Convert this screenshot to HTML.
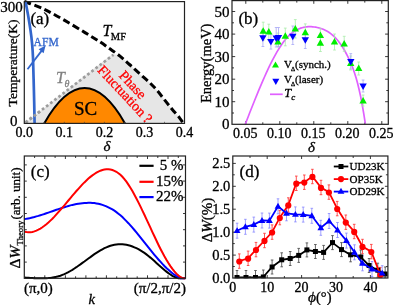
<!DOCTYPE html>
<html><head><meta charset="utf-8"><style>
html,body{margin:0;padding:0;background:#fff;overflow:hidden;width:393px;height:305px}
svg{display:block;will-change:transform}
text{font-family:"Liberation Serif",serif}
</style></head><body>
<svg width="393" height="305" viewBox="0 0 393 305" font-family="Liberation Serif, serif">
<rect width="393" height="305" fill="#fff"/>
<path d="M24.3,123.4 L112.5,54 C113.7,54.3 116.9,54.1 119.7,55.9C122.5,57.6 126.2,61.6 129.5,64.5C132.8,67.4 136,70.5 139.3,73.4C142.6,76.4 146.2,79.4 149.2,82.2C152.1,85 154.4,87.3 157,90.3C159.6,93.3 162.3,97 164.8,100.2C167.3,103.4 169.7,106.3 172.1,109.2C174.5,112.1 177.7,115.5 179.5,117.8C181.3,120.1 182.6,122.1 183.2,123 L183.2,123.4 Z" fill="#e6e6e6"/>
<path d="M44.2,123.4 Q84.6,52.8 125,123.4 Z" fill="#ff8800"/>
<path d="M44.2,123.4 Q84.6,52.8 125,123.4" fill="none" stroke="#000" stroke-width="2"/>
<path d="M25.5,122.5 L113.5,54.7" stroke="#9c9c9c" stroke-width="2.7" stroke-dasharray="2.7 2.5" fill="none"/>
<path d="M24.3,1.4C27.6,2.7 37.7,6.2 44.4,9.4C51.1,12.6 57.9,16.5 64.7,20.4C71.5,24.3 79.1,29 85,32.6C90.9,36.2 95.9,39.2 100,41.9C104.1,44.6 106.5,46.5 109.8,48.8C113.1,51.1 116.4,53.3 119.7,55.9C123,58.5 126.2,61.6 129.5,64.5C132.8,67.4 136,70.5 139.3,73.4C142.6,76.4 146.2,79.4 149.2,82.2C152.1,85 154.4,87.3 157,90.3C159.6,93.3 162.3,97 164.8,100.2C167.3,103.4 169.7,106.3 172.1,109.2C174.5,112.1 177.7,115.5 179.5,117.8C181.3,120.1 182.6,122.1 183.2,123" fill="none" stroke="#000" stroke-width="3" stroke-dasharray="7.2 3.6"/>
<path d="M25.5,1.3C25.9,3.5 27.2,10.1 28,14.8C28.8,19.5 29.7,24.9 30.4,29.6C31.1,34.3 31.6,38.1 32,42.8C32.4,47.5 32.7,49.7 33,57.6C33.3,65.5 33.6,79 33.9,90C34.2,101 34.5,117.8 34.6,123.4" fill="none" stroke="#3366cc" stroke-width="2.7"/>
<path d="M25.5,122.5 L40,111.3" stroke="#9c9c9c" stroke-width="2.7" stroke-dasharray="2.7 2.5" fill="none"/>
<path d="M27.5,69.2 L42.5,49.6" stroke="#3366cc" stroke-width="1.8" fill="none"/>
<path d="M45.6,45.6 L38.6,49.2 L43.6,53.2 Z" fill="#3366cc"/>
<rect x="24.3" y="1.6" width="160.2" height="121.8" fill="none" stroke="#222" stroke-width="1.2"/>
<path d="M44.3,123.4 V121.8" stroke="#444" stroke-width="0.7"/>
<path d="M64.3,123.4 V121.8" stroke="#444" stroke-width="0.7"/>
<path d="M84.4,123.4 V121.8" stroke="#444" stroke-width="0.7"/>
<path d="M104.4,123.4 V121.8" stroke="#444" stroke-width="0.7"/>
<path d="M124.4,123.4 V121.8" stroke="#444" stroke-width="0.7"/>
<path d="M144.4,123.4 V121.8" stroke="#444" stroke-width="0.7"/>
<path d="M164.5,123.4 V121.8" stroke="#444" stroke-width="0.7"/>
<text x="22.8" y="12.3" font-size="15" text-anchor="end" stroke="#000" stroke-width="0.3">300</text>
<text x="17.6" y="125.6" font-size="15" text-anchor="end" stroke="#000" stroke-width="0.3">0</text>
<text x="24.3" y="136.8" font-size="14" text-anchor="middle" stroke="#000" stroke-width="0.3">0.0</text>
<text x="64.3" y="136.8" font-size="14" text-anchor="middle" stroke="#000" stroke-width="0.3">0.1</text>
<text x="104.4" y="136.8" font-size="14" text-anchor="middle" stroke="#000" stroke-width="0.3">0.2</text>
<text x="144.4" y="136.8" font-size="14" text-anchor="middle" stroke="#000" stroke-width="0.3">0.3</text>
<text x="184.5" y="136.8" font-size="14" text-anchor="middle" stroke="#000" stroke-width="0.3">0.4</text>
<text x="107" y="150.5" font-size="15" font-style="italic" text-anchor="middle" stroke="#000" stroke-width="0.3">&#948;</text>
<text transform="translate(16.5,63) rotate(-90)" font-size="13.5" text-anchor="middle" stroke="#000" stroke-width="0.3">Temperature(K)</text>
<text x="30.4" y="23.8" font-size="17" stroke="#000" stroke-width="0.3">(a)</text>
<text x="33.6" y="46" font-size="11.6" fill="#3366cc" stroke="#3366cc" stroke-width="0.3">AFM</text>
<text x="102.5" y="35.8" font-size="16" font-style="italic" stroke="#000" stroke-width="0.3">T</text>
<text x="110.8" y="39.8" font-size="10.5" stroke="#000" stroke-width="0.3">MF</text>
<text x="56" y="82.8" font-size="16" font-style="italic" fill="#808080" stroke="#808080" stroke-width="0.3">T</text>
<text x="64.5" y="86.5" font-size="10" font-style="italic" fill="#808080" stroke="#808080" stroke-width="0.3">&#952;</text>
<text x="85.5" y="114.5" font-size="19" text-anchor="middle" stroke="#000" stroke-width="0.3">SC</text>
<text transform="translate(129.3,87.9) rotate(47)" font-size="14" fill="#ff0000" text-anchor="middle" stroke="#ff0000" stroke-width="0.3">Phase</text>
<text transform="translate(121.6,97.3) rotate(47)" font-size="14" fill="#ff0000" text-anchor="middle" stroke="#ff0000" stroke-width="0.3">Fluctuation&#8201;?</text>
<path d="M245.8,124.3 V121.1 M245.8,0.6 V3.8" stroke="#222" stroke-width="0.9"/>
<path d="M262.8,124.3 V122.3 M262.8,0.6 V2.6" stroke="#222" stroke-width="0.9"/>
<path d="M279.8,124.3 V121.1 M279.8,0.6 V3.8" stroke="#222" stroke-width="0.9"/>
<path d="M296.8,124.3 V122.3 M296.8,0.6 V2.6" stroke="#222" stroke-width="0.9"/>
<path d="M313.8,124.3 V121.1 M313.8,0.6 V3.8" stroke="#222" stroke-width="0.9"/>
<path d="M330.8,124.3 V122.3 M330.8,0.6 V2.6" stroke="#222" stroke-width="0.9"/>
<path d="M347.8,124.3 V121.1 M347.8,0.6 V3.8" stroke="#222" stroke-width="0.9"/>
<path d="M364.8,124.3 V122.3 M364.8,0.6 V2.6" stroke="#222" stroke-width="0.9"/>
<path d="M381.8,124.3 V121.1 M381.8,0.6 V3.8" stroke="#222" stroke-width="0.9"/>
<path d="M232,113 H234 M388.3,113 H386.3" stroke="#222" stroke-width="0.9"/>
<path d="M232,101.7 H235.2 M388.3,101.7 H385.1" stroke="#222" stroke-width="0.9"/>
<path d="M232,90.5 H234 M388.3,90.5 H386.3" stroke="#222" stroke-width="0.9"/>
<path d="M232,79.2 H235.2 M388.3,79.2 H385.1" stroke="#222" stroke-width="0.9"/>
<path d="M232,67.9 H234 M388.3,67.9 H386.3" stroke="#222" stroke-width="0.9"/>
<path d="M232,56.6 H235.2 M388.3,56.6 H385.1" stroke="#222" stroke-width="0.9"/>
<path d="M232,45.3 H234 M388.3,45.3 H386.3" stroke="#222" stroke-width="0.9"/>
<path d="M232,34.1 H235.2 M388.3,34.1 H385.1" stroke="#222" stroke-width="0.9"/>
<path d="M232,22.8 H234 M388.3,22.8 H386.3" stroke="#222" stroke-width="0.9"/>
<path d="M232,11.5 H235.2 M388.3,11.5 H385.1" stroke="#222" stroke-width="0.9"/>
<path d="M245.2,124.3 L246.7,120.5 L248.2,116.7 L249.7,112.8 L251.2,109 L252.7,105.2 L254.2,101.5 L255.7,97.7 L257.2,94.1 L258.7,90.4 L260.2,86.8 L261.7,83.3 L263.2,79.9 L264.7,76.5 L266.2,73.1 L267.7,69.9 L269.2,66.7 L270.7,63.7 L272.2,60.7 L273.7,57.8 L275.2,55.1 L276.7,52.4 L278.2,49.9 L279.7,47.5 L281.2,45.2 L282.7,43.1 L284.2,41.1 L285.7,39.2 L287.2,37.5 L288.7,35.9 L290.2,34.5 L291.7,33.2 L293.2,32.1 L294.7,31 L296.2,30.1 L297.7,29.4 L299.2,28.7 L300.7,28.1 L302.2,27.7 L303.7,27.3 L305.2,27 L306.7,26.8 L308.2,26.7 L309.7,26.7 L311.2,26.7 L312.7,26.8 L314.2,27 L315.7,27.2 L317.2,27.5 L318.7,27.8 L320.2,28.2 L321.7,28.7 L323.2,29.3 L324.7,29.9 L326.2,30.7 L327.7,31.5 L329.2,32.5 L330.7,33.6 L332.2,34.8 L333.7,36.2 L335.2,37.6 L336.7,39.3 L338.2,41 L339.7,43 L341.2,45.1 L342.7,47.4 L344.2,49.8 L345.7,52.5 L347.2,55.3 L348.7,58.3 L350.2,61.6 L351.7,65.1 L353.2,69 L354.7,73.4 L356.2,78.3 L357.7,83.8 L359.2,90 L360.7,96.9 L362.2,104.6 L363.7,113.3 L365.2,122.9 L365.3,123.6" fill="none" stroke="#e060ff" stroke-width="1.7"/>
<path d="M263.2,22.2 V40.2 M261.8,22.2 H264.6 M261.8,40.2 H264.6" stroke="#a8eca8" stroke-width="0.8" fill="none"/>
<path d="M268.8,24.2 V40 M267.4,24.2 H270.2 M267.4,40 H270.2" stroke="#a8eca8" stroke-width="0.8" fill="none"/>
<path d="M278,33 V46.5 M276.6,33 H279.4 M276.6,46.5 H279.4" stroke="#a8eca8" stroke-width="0.8" fill="none"/>
<path d="M285.3,28.1 V45.8 M283.9,28.1 H286.7 M283.9,45.8 H286.7" stroke="#a8eca8" stroke-width="0.8" fill="none"/>
<path d="M295.3,19.6 V38 M293.9,19.6 H296.7 M293.9,38 H296.7" stroke="#a8eca8" stroke-width="0.8" fill="none"/>
<path d="M305.3,23.9 V41.5 M303.9,23.9 H306.7 M303.9,41.5 H306.7" stroke="#a8eca8" stroke-width="0.8" fill="none"/>
<path d="M320.4,28.8 V42 M319,28.8 H321.8 M319,42 H321.8" stroke="#a8eca8" stroke-width="0.8" fill="none"/>
<path d="M320.4,35 V51.5 M319,35 H321.8 M319,51.5 H321.8" stroke="#a8eca8" stroke-width="0.8" fill="none"/>
<path d="M334.5,34 V50 M333.1,34 H335.9 M333.1,50 H335.9" stroke="#a8eca8" stroke-width="0.8" fill="none"/>
<path d="M344.2,36.3 V51.3 M342.8,36.3 H345.6 M342.8,51.3 H345.6" stroke="#a8eca8" stroke-width="0.8" fill="none"/>
<path d="M350.7,56 V70 M349.3,56 H352.1 M349.3,70 H352.1" stroke="#a8eca8" stroke-width="0.8" fill="none"/>
<path d="M358.7,62 V75 M357.3,62 H360.1 M357.3,75 H360.1" stroke="#a8eca8" stroke-width="0.8" fill="none"/>
<path d="M363.1,95 V106 M361.7,95 H364.5 M361.7,106 H364.5" stroke="#a8eca8" stroke-width="0.8" fill="none"/>
<path d="M262.9,29.6 V46.5 M261.5,29.6 H264.3 M261.5,46.5 H264.3" stroke="#a8a8f5" stroke-width="0.8" fill="none"/>
<path d="M270.9,34 V49.1 M269.5,34 H272.3 M269.5,49.1 H272.3" stroke="#a8a8f5" stroke-width="0.8" fill="none"/>
<path d="M276.2,27.5 V47 M274.8,27.5 H277.6 M274.8,47 H277.6" stroke="#a8a8f5" stroke-width="0.8" fill="none"/>
<path d="M278.5,27.5 V47 M277.1,27.5 H279.9 M277.1,47 H279.9" stroke="#a8a8f5" stroke-width="0.8" fill="none"/>
<path d="M292.8,26 V44.5 M291.4,26 H294.2 M291.4,44.5 H294.2" stroke="#a8a8f5" stroke-width="0.8" fill="none"/>
<path d="M305.3,31 V48.5 M303.9,31 H306.7 M303.9,48.5 H306.7" stroke="#a8a8f5" stroke-width="0.8" fill="none"/>
<path d="M350.8,53.6 V69 M349.4,53.6 H352.2 M349.4,69 H352.2" stroke="#a8a8f5" stroke-width="0.8" fill="none"/>
<path d="M363.1,80 V92 M361.7,80 H364.5 M361.7,92 H364.5" stroke="#a8a8f5" stroke-width="0.8" fill="none"/>
<path d="M263.2,27.3 L259.5,33.8 L266.9,33.8 Z" fill="#00ee00"/>
<path d="M268.8,28.1 L265.1,34.6 L272.5,34.6 Z" fill="#00ee00"/>
<path d="M278,37.9 L274.3,44.4 L281.7,44.4 Z" fill="#00ee00"/>
<path d="M285.3,32.2 L281.6,38.7 L289,38.7 Z" fill="#00ee00"/>
<path d="M295.3,24.9 L291.6,31.4 L299,31.4 Z" fill="#00ee00"/>
<path d="M305.3,28.8 L301.6,35.3 L309,35.3 Z" fill="#00ee00"/>
<path d="M320.4,31.4 L316.7,37.9 L324.1,37.9 Z" fill="#00ee00"/>
<path d="M320.4,39.3 L316.7,45.8 L324.1,45.8 Z" fill="#00ee00"/>
<path d="M334.5,38.1 L330.8,44.6 L338.2,44.6 Z" fill="#00ee00"/>
<path d="M344.2,39.9 L340.5,46.4 L347.9,46.4 Z" fill="#00ee00"/>
<path d="M350.7,59.5 L347,66 L354.4,66 Z" fill="#00ee00"/>
<path d="M358.7,64.6 L355,71.1 L362.4,71.1 Z" fill="#00ee00"/>
<path d="M363.1,97 L359.4,103.5 L366.8,103.5 Z" fill="#00ee00"/>
<path d="M262.9,41.7 L259.2,35.2 L266.6,35.2 Z" fill="#0000ff"/>
<path d="M270.9,45.4 L267.2,38.9 L274.6,38.9 Z" fill="#0000ff"/>
<path d="M276.2,42.1 L272.5,35.6 L279.9,35.6 Z" fill="#0000ff"/>
<path d="M278.5,41.4 L274.8,34.9 L282.2,34.9 Z" fill="#0000ff"/>
<path d="M292.8,40.3 L289.1,33.8 L296.5,33.8 Z" fill="#0000ff"/>
<path d="M305.3,43.7 L301.6,37.2 L309,37.2 Z" fill="#0000ff"/>
<path d="M350.8,65.4 L347.1,58.9 L354.5,58.9 Z" fill="#0000ff"/>
<path d="M363.1,89.9 L359.4,83.4 L366.8,83.4 Z" fill="#0000ff"/>
<rect x="232" y="0.6" width="156.3" height="123.7" fill="none" stroke="#222" stroke-width="1.2"/>
<text x="229.5" y="129.3" font-size="15" text-anchor="end" stroke="#000" stroke-width="0.3">0</text>
<text x="229.5" y="106.7" font-size="15" text-anchor="end" stroke="#000" stroke-width="0.3">10</text>
<text x="229.5" y="84.2" font-size="15" text-anchor="end" stroke="#000" stroke-width="0.3">20</text>
<text x="229.5" y="61.6" font-size="15" text-anchor="end" stroke="#000" stroke-width="0.3">30</text>
<text x="229.5" y="39.1" font-size="15" text-anchor="end" stroke="#000" stroke-width="0.3">40</text>
<text x="229.5" y="16.5" font-size="15" text-anchor="end" stroke="#000" stroke-width="0.3">50</text>
<text x="245.3" y="138.4" font-size="14" text-anchor="middle" stroke="#000" stroke-width="0.3">0.05</text>
<text x="279.3" y="138.4" font-size="14" text-anchor="middle" stroke="#000" stroke-width="0.3">0.10</text>
<text x="313.3" y="138.4" font-size="14" text-anchor="middle" stroke="#000" stroke-width="0.3">0.15</text>
<text x="347.3" y="138.4" font-size="14" text-anchor="middle" stroke="#000" stroke-width="0.3">0.20</text>
<text x="381.3" y="138.4" font-size="14" text-anchor="middle" stroke="#000" stroke-width="0.3">0.25</text>
<text x="311.5" y="151.5" font-size="15" font-style="italic" text-anchor="middle" stroke="#000" stroke-width="0.3">&#948;</text>
<text transform="translate(211,63.3) rotate(-90)" font-size="14.5" text-anchor="middle" stroke="#000" stroke-width="0.3">Energy(meV)</text>
<text x="238.4" y="23.9" font-size="17" stroke="#000" stroke-width="0.3">(b)</text>
<path d="M275.5,61.5 L272,67.6 L279,67.6 Z" fill="#00ee00"/>
<path d="M275.8,84.9 L272.3,78.8 L279.3,78.8 Z" fill="#0000ff"/>
<path d="M270,94.3 H282.7" stroke="#e060ff" stroke-width="1.7"/>
<text x="284" y="68.2" font-size="11" stroke="#000" stroke-width="0.3">V</text><text x="291" y="71" font-size="6.5" stroke="#000" stroke-width="0.3">&#916;</text><text x="295" y="68.2" font-size="11" stroke="#000" stroke-width="0.3">(synch.)</text>
<text x="284" y="83" font-size="11" stroke="#000" stroke-width="0.3">V</text><text x="291" y="85.8" font-size="6.5" stroke="#000" stroke-width="0.3">&#916;</text><text x="295" y="83" font-size="11" stroke="#000" stroke-width="0.3">(laser)</text>
<text x="284.2" y="96.8" font-size="12.5" font-style="italic" stroke="#000" stroke-width="0.3">T</text><text x="291.2" y="99.8" font-size="9" font-style="italic" stroke="#000" stroke-width="0.3">c</text>
<path d="M34.6,278.3 V276.3 M34.6,156 V158" stroke="#222" stroke-width="0.9"/>
<path d="M44.8,278.3 V275.3 M44.8,156 V159" stroke="#222" stroke-width="0.9"/>
<path d="M55.1,278.3 V276.3 M55.1,156 V158" stroke="#222" stroke-width="0.9"/>
<path d="M65.4,278.3 V275.3 M65.4,156 V159" stroke="#222" stroke-width="0.9"/>
<path d="M75.6,278.3 V276.3 M75.6,156 V158" stroke="#222" stroke-width="0.9"/>
<path d="M85.9,278.3 V275.3 M85.9,156 V159" stroke="#222" stroke-width="0.9"/>
<path d="M96.2,278.3 V276.3 M96.2,156 V158" stroke="#222" stroke-width="0.9"/>
<path d="M106.4,278.3 V275.3 M106.4,156 V159" stroke="#222" stroke-width="0.9"/>
<path d="M116.7,278.3 V276.3 M116.7,156 V158" stroke="#222" stroke-width="0.9"/>
<path d="M127,278.3 V275.3 M127,156 V159" stroke="#222" stroke-width="0.9"/>
<path d="M137.2,278.3 V276.3 M137.2,156 V158" stroke="#222" stroke-width="0.9"/>
<path d="M147.5,278.3 V275.3 M147.5,156 V159" stroke="#222" stroke-width="0.9"/>
<path d="M157.8,278.3 V276.3 M157.8,156 V158" stroke="#222" stroke-width="0.9"/>
<path d="M168,278.3 V275.3 M168,156 V159" stroke="#222" stroke-width="0.9"/>
<path d="M178.3,278.3 V276.3 M178.3,156 V158" stroke="#222" stroke-width="0.9"/>
<path d="M24.3,262.1 H26.8 M185.5,262.1 H183" stroke="#222" stroke-width="0.9"/>
<path d="M24.3,245.9 H26.8 M185.5,245.9 H183" stroke="#222" stroke-width="0.9"/>
<path d="M24.3,229.7 H26.8 M185.5,229.7 H183" stroke="#222" stroke-width="0.9"/>
<path d="M24.3,213.5 H26.8 M185.5,213.5 H183" stroke="#222" stroke-width="0.9"/>
<path d="M24.3,197.3 H26.8 M185.5,197.3 H183" stroke="#222" stroke-width="0.9"/>
<path d="M24.3,181.1 H26.8 M185.5,181.1 H183" stroke="#222" stroke-width="0.9"/>
<path d="M24.3,164.9 H26.8 M185.5,164.9 H183" stroke="#222" stroke-width="0.9"/>
<path d="M24.4,277.6 L26.4,277.7 L28.4,277.8 L30.4,278 L32.4,278.1 L34.4,278.2 L36.4,278.2 L38.4,278.2 L40.4,278.2 L42.4,278.2 L44.4,278.2 L46.4,278.2 L48.4,278.1 L50.4,277.9 L52.4,277.6 L54.4,277.2 L56.4,276.8 L58.4,276.3 L60.4,275.7 L62.4,274.9 L64.4,274.1 L66.4,273.2 L68.4,272.2 L70.4,271 L72.4,269.8 L74.4,268.5 L76.4,267.2 L78.4,265.8 L80.4,264.4 L82.4,262.9 L84.4,261.5 L86.4,260 L88.4,258.5 L90.4,257.1 L92.4,255.6 L94.4,254.2 L96.4,252.9 L98.4,251.6 L100.4,250.4 L102.4,249.3 L104.4,248.2 L106.4,247.3 L108.4,246.5 L110.4,245.8 L112.4,245.2 L114.4,244.8 L116.4,244.5 L118.4,244.3 L120.4,244.2 L122.4,244.3 L124.4,244.5 L126.4,244.8 L128.4,245.3 L130.4,245.8 L132.4,246.5 L134.4,247.3 L136.4,248.2 L138.4,249.2 L140.4,250.4 L142.4,251.6 L144.4,252.9 L146.4,254.4 L148.4,256 L150.4,257.6 L152.4,259.3 L154.4,261.1 L156.4,262.9 L158.4,264.8 L160.4,266.6 L162.4,268.3 L164.4,270 L166.4,271.6 L168.4,273.1 L170.4,274.5 L172.4,275.8 L174.4,276.8 L176.4,277.6 L178.4,278.2 L180.4,278.2 L182.4,278.2 L184.4,278.2 L185.3,278.2" fill="none" stroke="#000" stroke-width="2"/>
<path d="M24.4,219.1 L26.4,218.8 L28.4,218.4 L30.4,218 L32.4,217.5 L34.4,217 L36.4,216.4 L38.4,215.9 L40.4,215.2 L42.4,214.6 L44.4,214 L46.4,213.3 L48.4,212.6 L50.4,211.9 L52.4,211.2 L54.4,210.5 L56.4,209.8 L58.4,209.1 L60.4,208.5 L62.4,207.8 L64.4,207.2 L66.4,206.6 L68.4,206 L70.4,205.4 L72.4,204.9 L74.4,204.5 L76.4,204.1 L78.4,203.7 L80.4,203.4 L82.4,203.2 L84.4,203 L86.4,202.9 L88.4,202.8 L90.4,202.8 L92.4,203 L94.4,203.1 L96.4,203.4 L98.4,203.8 L100.4,204.3 L102.4,204.9 L104.4,205.6 L106.4,206.3 L108.4,207.3 L110.4,208.3 L112.4,209.4 L114.4,210.7 L116.4,212.1 L118.4,213.7 L120.4,215.3 L122.4,217.1 L124.4,219.1 L126.4,221.1 L128.4,223.2 L130.4,225.4 L132.4,227.7 L134.4,230 L136.4,232.4 L138.4,234.9 L140.4,237.4 L142.4,239.9 L144.4,242.4 L146.4,244.9 L148.4,247.4 L150.4,249.9 L152.4,252.3 L154.4,254.8 L156.4,257.2 L158.4,259.5 L160.4,261.7 L162.4,263.9 L164.4,266 L166.4,268 L168.4,269.8 L170.4,271.6 L172.4,273.2 L174.4,274.7 L176.4,276 L178.4,277.2 L180.4,278.2 L182.4,278.2 L184.4,278.2 L185.3,278.2" fill="none" stroke="#0000ff" stroke-width="2"/>
<path d="M24.4,231.7 L26.4,232.1 L28.4,232.3 L30.4,232.2 L32.4,231.9 L34.4,231.4 L36.4,230.6 L38.4,229.7 L40.4,228.6 L42.4,227.3 L44.4,225.8 L46.4,224.2 L48.4,222.5 L50.4,220.6 L52.4,218.7 L54.4,216.6 L56.4,214.4 L58.4,212.2 L60.4,209.9 L62.4,207.6 L64.4,205.3 L66.4,202.9 L68.4,200.5 L70.4,198.1 L72.4,195.7 L74.4,193.3 L76.4,191 L78.4,188.8 L80.4,186.6 L82.4,184.4 L84.4,182.4 L86.4,180.5 L88.4,178.6 L90.4,176.9 L92.4,175.4 L94.4,174 L96.4,172.7 L98.4,171.6 L100.4,170.7 L102.4,170 L104.4,169.6 L106.4,169.3 L108.4,169.3 L110.4,169.5 L112.4,170 L114.4,170.8 L116.4,171.8 L118.4,173.2 L120.4,174.8 L122.4,176.8 L124.4,179.1 L126.4,181.7 L128.4,184.6 L130.4,187.8 L132.4,191.1 L134.4,194.7 L136.4,198.5 L138.4,202.4 L140.4,206.4 L142.4,210.6 L144.4,214.8 L146.4,219.1 L148.4,223.4 L150.4,227.7 L152.4,232.1 L154.4,236.3 L156.4,240.5 L158.4,244.7 L160.4,248.7 L162.4,252.5 L164.4,256.2 L166.4,259.7 L168.4,263 L170.4,266.1 L172.4,268.9 L174.4,271.4 L176.4,273.6 L178.4,275.5 L180.4,277 L182.4,278.1 L184.4,278.2 L185.3,278.2" fill="none" stroke="#ff0000" stroke-width="2"/>
<rect x="24.3" y="156" width="161.2" height="122.3" fill="none" stroke="#222" stroke-width="1.2"/>
<path d="M139.4,165.8 H153.6" stroke="#000" stroke-width="2.2"/>
<path d="M139.4,181.8 H153.6" stroke="#ff0000" stroke-width="2.2"/>
<path d="M139.4,197.1 H153.6" stroke="#0000ff" stroke-width="2.2"/>
<text x="183.5" y="170.3" font-size="15" text-anchor="end" stroke="#000" stroke-width="0.3">5 %</text>
<text x="183.5" y="185.7" font-size="15" text-anchor="end" stroke="#000" stroke-width="0.3">15%</text>
<text x="183.5" y="201.1" font-size="15" text-anchor="end" stroke="#000" stroke-width="0.3">22%</text>
<text x="30.8" y="176.5" font-size="17" stroke="#000" stroke-width="0.3">(c)</text>
<text x="38.4" y="292.5" font-size="15" text-anchor="middle" stroke="#000" stroke-width="0.3">(&#960;,0)</text>
<text x="159.8" y="292.5" font-size="15" text-anchor="middle" stroke="#000" stroke-width="0.3">(&#960;/2,&#960;/2)</text>
<text x="91.8" y="303.5" font-size="14.5" font-style="italic" text-anchor="middle" stroke="#000" stroke-width="0.3">k</text>
<text transform="translate(19.8,268.4) rotate(-90)" font-size="15.5" stroke="#000" stroke-width="0.3"><tspan>&#916;</tspan><tspan font-style="italic">W</tspan><tspan font-size="8.6" dy="3">Theory</tspan><tspan dy="-3" dx="1.2" font-size="13">(arb. unit)</tspan></text>
<path d="M250,278 V276 M250,156 V158" stroke="#222" stroke-width="0.9"/>
<path d="M267.2,278 V275 M267.2,156 V159" stroke="#222" stroke-width="0.9"/>
<path d="M284.4,278 V276 M284.4,156 V158" stroke="#222" stroke-width="0.9"/>
<path d="M301.6,278 V275 M301.6,156 V159" stroke="#222" stroke-width="0.9"/>
<path d="M318.8,278 V276 M318.8,156 V158" stroke="#222" stroke-width="0.9"/>
<path d="M336,278 V275 M336,156 V159" stroke="#222" stroke-width="0.9"/>
<path d="M353.2,278 V276 M353.2,156 V158" stroke="#222" stroke-width="0.9"/>
<path d="M370.4,278 V275 M370.4,156 V159" stroke="#222" stroke-width="0.9"/>
<path d="M232.8,266.5 H234.8 M387.9,266.5 H385.9" stroke="#222" stroke-width="0.9"/>
<path d="M232.8,255.1 H235.8 M387.9,255.1 H384.9" stroke="#222" stroke-width="0.9"/>
<path d="M232.8,243.6 H234.8 M387.9,243.6 H385.9" stroke="#222" stroke-width="0.9"/>
<path d="M232.8,232.2 H235.8 M387.9,232.2 H384.9" stroke="#222" stroke-width="0.9"/>
<path d="M232.8,220.7 H234.8 M387.9,220.7 H385.9" stroke="#222" stroke-width="0.9"/>
<path d="M232.8,209.2 H235.8 M387.9,209.2 H384.9" stroke="#222" stroke-width="0.9"/>
<path d="M232.8,197.8 H234.8 M387.9,197.8 H385.9" stroke="#222" stroke-width="0.9"/>
<path d="M232.8,186.3 H235.8 M387.9,186.3 H384.9" stroke="#222" stroke-width="0.9"/>
<path d="M232.8,174.8 H234.8 M387.9,174.8 H385.9" stroke="#222" stroke-width="0.9"/>
<path d="M232.8,163.4 H235.8 M387.9,163.4 H384.9" stroke="#222" stroke-width="0.9"/>
<clipPath id="cd"><rect x="232.8" y="156" width="155.1" height="122.3"/></clipPath><g clip-path="url(#cd)">
<path d="M237,270.5 V278 M235.7,270.5 H238.3 M235.7,278 H238.3" stroke="#555" stroke-width="0.9" fill="none"/>
<path d="M246,270.5 V278 M244.7,270.5 H247.3 M244.7,278 H247.3" stroke="#555" stroke-width="0.9" fill="none"/>
<path d="M255.5,270.5 V278 M254.2,270.5 H256.8 M254.2,278 H256.8" stroke="#555" stroke-width="0.9" fill="none"/>
<path d="M263.3,270 V278 M262,270 H264.6 M262,278 H264.6" stroke="#555" stroke-width="0.9" fill="none"/>
<path d="M272.1,260 V274 M270.8,260 H273.4 M270.8,274 H273.4" stroke="#555" stroke-width="0.9" fill="none"/>
<path d="M281.7,252.8 V266.8 M280.4,252.8 H283 M280.4,266.8 H283" stroke="#555" stroke-width="0.9" fill="none"/>
<path d="M290.2,251.5 V265.5 M288.9,251.5 H291.5 M288.9,265.5 H291.5" stroke="#555" stroke-width="0.9" fill="none"/>
<path d="M298.7,248.4 V262.4 M297.4,248.4 H300 M297.4,262.4 H300" stroke="#555" stroke-width="0.9" fill="none"/>
<path d="M306.9,242.9 V256.9 M305.6,242.9 H308.2 M305.6,256.9 H308.2" stroke="#555" stroke-width="0.9" fill="none"/>
<path d="M315.4,244.5 V258.5 M314.1,244.5 H316.7 M314.1,258.5 H316.7" stroke="#555" stroke-width="0.9" fill="none"/>
<path d="M323.6,245.4 V259.4 M322.3,245.4 H324.9 M322.3,259.4 H324.9" stroke="#555" stroke-width="0.9" fill="none"/>
<path d="M332.5,235.6 V249.6 M331.2,235.6 H333.8 M331.2,249.6 H333.8" stroke="#555" stroke-width="0.9" fill="none"/>
<path d="M341.5,242.6 V256.6 M340.2,242.6 H342.8 M340.2,256.6 H342.8" stroke="#555" stroke-width="0.9" fill="none"/>
<path d="M350.6,247.8 V261.8 M349.3,247.8 H351.9 M349.3,261.8 H351.9" stroke="#555" stroke-width="0.9" fill="none"/>
<path d="M360.7,250 V264 M359.4,250 H362 M359.4,264 H362" stroke="#555" stroke-width="0.9" fill="none"/>
<path d="M369.1,258.5 V272.5 M367.8,258.5 H370.4 M367.8,272.5 H370.4" stroke="#555" stroke-width="0.9" fill="none"/>
<path d="M377.8,263.2 V277.2 M376.5,263.2 H379.1 M376.5,277.2 H379.1" stroke="#555" stroke-width="0.9" fill="none"/>
<path d="M385.2,267 V278 M383.9,267 H386.5 M383.9,278 H386.5" stroke="#555" stroke-width="0.9" fill="none"/>
<path d="M239.3,253.9 V268.3 M238,253.9 H240.6 M238,268.3 H240.6" stroke="#ff4040" stroke-width="0.9" fill="none"/>
<path d="M248.1,251.1 V265.5 M246.8,251.1 H249.4 M246.8,265.5 H249.4" stroke="#ff4040" stroke-width="0.9" fill="none"/>
<path d="M256,242.4 V256.8 M254.7,242.4 H257.3 M254.7,256.8 H257.3" stroke="#ff4040" stroke-width="0.9" fill="none"/>
<path d="M264.5,233.3 V247.7 M263.2,233.3 H265.8 M263.2,247.7 H265.8" stroke="#ff4040" stroke-width="0.9" fill="none"/>
<path d="M272.1,224.9 V239.3 M270.8,224.9 H273.4 M270.8,239.3 H273.4" stroke="#ff4040" stroke-width="0.9" fill="none"/>
<path d="M279.8,210.4 V224.8 M278.5,210.4 H281.1 M278.5,224.8 H281.1" stroke="#ff4040" stroke-width="0.9" fill="none"/>
<path d="M288.3,197.8 V212.2 M287,197.8 H289.6 M287,212.2 H289.6" stroke="#ff4040" stroke-width="0.9" fill="none"/>
<path d="M296.3,176.1 V190.5 M295,176.1 H297.6 M295,190.5 H297.6" stroke="#ff4040" stroke-width="0.9" fill="none"/>
<path d="M304.3,175 V189.4 M303,175 H305.6 M303,189.4 H305.6" stroke="#ff4040" stroke-width="0.9" fill="none"/>
<path d="M312.4,169.3 V183.7 M311.1,169.3 H313.7 M311.1,183.7 H313.7" stroke="#ff4040" stroke-width="0.9" fill="none"/>
<path d="M321,180.3 V194.7 M319.7,180.3 H322.3 M319.7,194.7 H322.3" stroke="#ff4040" stroke-width="0.9" fill="none"/>
<path d="M328.9,184.9 V199.3 M327.6,184.9 H330.2 M327.6,199.3 H330.2" stroke="#ff4040" stroke-width="0.9" fill="none"/>
<path d="M337.2,201.4 V215.8 M335.9,201.4 H338.5 M335.9,215.8 H338.5" stroke="#ff4040" stroke-width="0.9" fill="none"/>
<path d="M345.8,215 V229.4 M344.5,215 H347.1 M344.5,229.4 H347.1" stroke="#ff4040" stroke-width="0.9" fill="none"/>
<path d="M354.2,224.3 V238.7 M352.9,224.3 H355.5 M352.9,238.7 H355.5" stroke="#ff4040" stroke-width="0.9" fill="none"/>
<path d="M362.5,239.3 V253.7 M361.2,239.3 H363.8 M361.2,253.7 H363.8" stroke="#ff4040" stroke-width="0.9" fill="none"/>
<path d="M371.3,244.4 V258.8 M370,244.4 H372.6 M370,258.8 H372.6" stroke="#ff4040" stroke-width="0.9" fill="none"/>
<path d="M380.3,267.4 V278 M379,267.4 H381.6 M379,278 H381.6" stroke="#ff4040" stroke-width="0.9" fill="none"/>
<path d="M237.1,223.2 V238.2 M235.8,223.2 H238.4 M235.8,238.2 H238.4" stroke="#8080ff" stroke-width="0.75" fill="none"/>
<path d="M245.4,219.3 V234.3 M244.1,219.3 H246.7 M244.1,234.3 H246.7" stroke="#8080ff" stroke-width="0.75" fill="none"/>
<path d="M253.8,217.1 V232.1 M252.5,217.1 H255.1 M252.5,232.1 H255.1" stroke="#8080ff" stroke-width="0.75" fill="none"/>
<path d="M262,213 V228 M260.7,213 H263.3 M260.7,228 H263.3" stroke="#8080ff" stroke-width="0.75" fill="none"/>
<path d="M269.4,213.1 V228.1 M268.1,213.1 H270.7 M268.1,228.1 H270.7" stroke="#8080ff" stroke-width="0.75" fill="none"/>
<path d="M278,198.8 V213.8 M276.7,198.8 H279.3 M276.7,213.8 H279.3" stroke="#8080ff" stroke-width="0.75" fill="none"/>
<path d="M286.5,205.8 V220.8 M285.2,205.8 H287.8 M285.2,220.8 H287.8" stroke="#8080ff" stroke-width="0.75" fill="none"/>
<path d="M295.4,206.9 V221.9 M294.1,206.9 H296.7 M294.1,221.9 H296.7" stroke="#8080ff" stroke-width="0.75" fill="none"/>
<path d="M303.2,207.1 V222.1 M301.9,207.1 H304.5 M301.9,222.1 H304.5" stroke="#8080ff" stroke-width="0.75" fill="none"/>
<path d="M311.8,208.3 V223.3 M310.5,208.3 H313.1 M310.5,223.3 H313.1" stroke="#8080ff" stroke-width="0.75" fill="none"/>
<path d="M320.8,220.3 V235.3 M319.5,220.3 H322.1 M319.5,235.3 H322.1" stroke="#8080ff" stroke-width="0.75" fill="none"/>
<path d="M329.1,213.5 V228.5 M327.8,213.5 H330.4 M327.8,228.5 H330.4" stroke="#8080ff" stroke-width="0.75" fill="none"/>
<path d="M337.5,222.5 V237.5 M336.2,222.5 H338.8 M336.2,237.5 H338.8" stroke="#8080ff" stroke-width="0.75" fill="none"/>
<path d="M346.4,233.1 V248.1 M345.1,233.1 H347.7 M345.1,248.1 H347.7" stroke="#8080ff" stroke-width="0.75" fill="none"/>
<path d="M354.5,244.8 V259.8 M353.2,244.8 H355.8 M353.2,259.8 H355.8" stroke="#8080ff" stroke-width="0.75" fill="none"/>
<path d="M362.5,255.8 V270.8 M361.2,255.8 H363.8 M361.2,270.8 H363.8" stroke="#8080ff" stroke-width="0.75" fill="none"/>
<path d="M372,261.5 V276.5 M370.7,261.5 H373.3 M370.7,276.5 H373.3" stroke="#8080ff" stroke-width="0.75" fill="none"/>
<path d="M382.2,265.7 V278 M380.9,265.7 H383.5 M380.9,278 H383.5" stroke="#8080ff" stroke-width="0.75" fill="none"/>
<path d="M237,277.5 L246,277.5 L255.5,277.5 L263.3,277 L272.1,267 L281.7,259.8 L290.2,258.5 L298.7,255.4 L306.9,249.9 L315.4,251.5 L323.6,252.4 L332.5,242.6 L341.5,249.6 L350.6,254.8 L360.7,257 L369.1,265.5 L377.8,270.2 L385.2,274" fill="none" stroke="#000" stroke-width="1.8"/>
<rect x="234.5" y="275" width="5" height="5" fill="#000"/>
<rect x="243.5" y="275" width="5" height="5" fill="#000"/>
<rect x="253" y="275" width="5" height="5" fill="#000"/>
<rect x="260.8" y="274.5" width="5" height="5" fill="#000"/>
<rect x="269.6" y="264.5" width="5" height="5" fill="#000"/>
<rect x="279.2" y="257.3" width="5" height="5" fill="#000"/>
<rect x="287.7" y="256" width="5" height="5" fill="#000"/>
<rect x="296.2" y="252.9" width="5" height="5" fill="#000"/>
<rect x="304.4" y="247.4" width="5" height="5" fill="#000"/>
<rect x="312.9" y="249" width="5" height="5" fill="#000"/>
<rect x="321.1" y="249.9" width="5" height="5" fill="#000"/>
<rect x="330" y="240.1" width="5" height="5" fill="#000"/>
<rect x="339" y="247.1" width="5" height="5" fill="#000"/>
<rect x="348.1" y="252.3" width="5" height="5" fill="#000"/>
<rect x="358.2" y="254.5" width="5" height="5" fill="#000"/>
<rect x="366.6" y="263" width="5" height="5" fill="#000"/>
<rect x="375.3" y="267.7" width="5" height="5" fill="#000"/>
<rect x="382.7" y="271.5" width="5" height="5" fill="#000"/>
<path d="M239.3,261.1 L248.1,258.3 L256,249.6 L264.5,240.5 L272.1,232.1 L279.8,217.6 L288.3,205 L296.3,183.3 L304.3,182.2 L312.4,176.5 L321,187.5 L328.9,192.1 L337.2,208.6 L345.8,222.2 L354.2,231.5 L362.5,246.5 L371.3,251.6 L380.3,274.6" fill="none" stroke="#ff0000" stroke-width="1.8"/>
<circle cx="239.3" cy="261.5" r="3.1" fill="#ff0000"/>
<circle cx="248.1" cy="258.7" r="3.1" fill="#ff0000"/>
<circle cx="256" cy="250" r="3.1" fill="#ff0000"/>
<circle cx="264.5" cy="240.9" r="3.1" fill="#ff0000"/>
<circle cx="272.1" cy="232.5" r="3.1" fill="#ff0000"/>
<circle cx="279.8" cy="218" r="3.1" fill="#ff0000"/>
<circle cx="288.3" cy="205.4" r="3.1" fill="#ff0000"/>
<circle cx="296.3" cy="183.7" r="3.1" fill="#ff0000"/>
<circle cx="304.3" cy="182.6" r="3.1" fill="#ff0000"/>
<circle cx="312.4" cy="176.9" r="3.1" fill="#ff0000"/>
<circle cx="321" cy="187.9" r="3.1" fill="#ff0000"/>
<circle cx="328.9" cy="192.5" r="3.1" fill="#ff0000"/>
<circle cx="337.2" cy="209" r="3.1" fill="#ff0000"/>
<circle cx="345.8" cy="222.6" r="3.1" fill="#ff0000"/>
<circle cx="354.2" cy="231.9" r="3.1" fill="#ff0000"/>
<circle cx="362.5" cy="246.9" r="3.1" fill="#ff0000"/>
<circle cx="371.3" cy="252" r="3.1" fill="#ff0000"/>
<circle cx="380.3" cy="275" r="3.1" fill="#ff0000"/>
<path d="M237.1,230.7 L245.4,226.8 L253.8,224.6 L262,220.5 L269.4,220.6 L278,206.3 L286.5,213.3 L295.4,214.4 L303.2,214.6 L311.8,215.8 L320.8,227.8 L329.1,221 L337.5,230 L346.4,240.6 L354.5,252.3 L362.5,263.3 L372,269 L382.2,273.2" fill="none" stroke="#0000ff" stroke-width="1.8"/>
<path d="M237.1,227.2 L233.7,233.1 L240.5,233.1 Z" fill="#0000ff"/>
<path d="M245.4,223.3 L242,229.2 L248.8,229.2 Z" fill="#0000ff"/>
<path d="M253.8,221.1 L250.4,227 L257.2,227 Z" fill="#0000ff"/>
<path d="M262,217 L258.6,222.9 L265.4,222.9 Z" fill="#0000ff"/>
<path d="M269.4,217.1 L266,223 L272.8,223 Z" fill="#0000ff"/>
<path d="M278,202.8 L274.6,208.7 L281.4,208.7 Z" fill="#0000ff"/>
<path d="M286.5,209.8 L283.1,215.7 L289.9,215.7 Z" fill="#0000ff"/>
<path d="M295.4,210.9 L292,216.8 L298.8,216.8 Z" fill="#0000ff"/>
<path d="M303.2,211.1 L299.8,217 L306.6,217 Z" fill="#0000ff"/>
<path d="M311.8,212.3 L308.4,218.2 L315.2,218.2 Z" fill="#0000ff"/>
<path d="M320.8,224.3 L317.4,230.2 L324.2,230.2 Z" fill="#0000ff"/>
<path d="M329.1,217.5 L325.7,223.4 L332.5,223.4 Z" fill="#0000ff"/>
<path d="M337.5,226.5 L334.1,232.4 L340.9,232.4 Z" fill="#0000ff"/>
<path d="M346.4,237.1 L343,243 L349.8,243 Z" fill="#0000ff"/>
<path d="M354.5,248.8 L351.1,254.7 L357.9,254.7 Z" fill="#0000ff"/>
<path d="M362.5,259.8 L359.1,265.7 L365.9,265.7 Z" fill="#0000ff"/>
<path d="M372,265.5 L368.6,271.4 L375.4,271.4 Z" fill="#0000ff"/>
<path d="M382.2,269.7 L378.8,275.6 L385.6,275.6 Z" fill="#0000ff"/>
</g>
<rect x="232.8" y="156" width="155.1" height="122" fill="none" stroke="#222" stroke-width="1.2"/>
<text x="230.3" y="283" font-size="14.5" text-anchor="end" stroke="#000" stroke-width="0.3">0.0</text>
<text x="230.3" y="260.1" font-size="14.5" text-anchor="end" stroke="#000" stroke-width="0.3">0.5</text>
<text x="230.3" y="237.2" font-size="14.5" text-anchor="end" stroke="#000" stroke-width="0.3">1.0</text>
<text x="230.3" y="214.2" font-size="14.5" text-anchor="end" stroke="#000" stroke-width="0.3">1.5</text>
<text x="230.3" y="191.3" font-size="14.5" text-anchor="end" stroke="#000" stroke-width="0.3">2.0</text>
<text x="230.3" y="168.4" font-size="14.5" text-anchor="end" stroke="#000" stroke-width="0.3">2.5</text>
<text x="232.8" y="291.8" font-size="14" text-anchor="middle" stroke="#000" stroke-width="0.3">0</text>
<text x="267.2" y="291.8" font-size="14" text-anchor="middle" stroke="#000" stroke-width="0.3">10</text>
<text x="301.6" y="291.8" font-size="14" text-anchor="middle" stroke="#000" stroke-width="0.3">20</text>
<text x="336" y="291.8" font-size="14" text-anchor="middle" stroke="#000" stroke-width="0.3">30</text>
<text x="370.4" y="291.8" font-size="14" text-anchor="middle" stroke="#000" stroke-width="0.3">40</text>
<text x="308" y="302.3" font-size="14.5" stroke="#000" stroke-width="0.3"><tspan font-style="italic" font-size="15.5">&#981;</tspan>(&#176;)</text>
<text transform="translate(211.8,242.3) rotate(-90)" font-size="15" stroke="#000" stroke-width="0.3"><tspan>&#916;</tspan><tspan font-style="italic">W</tspan>(%)</text>
<text x="239.6" y="176.5" font-size="17" stroke="#000" stroke-width="0.3">(d)</text>
<path d="M333.8,166.5 H348.3" stroke="#000" stroke-width="1.8"/><rect x="338.5" y="164" width="5" height="5" fill="#000"/>
<path d="M333.8,179.1 H348.3" stroke="#ff0000" stroke-width="1.8"/><circle cx="341" cy="179.1" r="3.1" fill="#ff0000"/>
<path d="M333.8,191.6 H348.3" stroke="#0000ff" stroke-width="1.8"/><path d="M341,187.8 L337.6,193.7 L344.4,193.7 Z" fill="#0000ff"/>
<text x="349.5" y="170.3" font-size="11.1" stroke="#000" stroke-width="0.3">UD23K</text>
<text x="349.5" y="182.8" font-size="11.1" stroke="#000" stroke-width="0.3">OP35K</text>
<text x="349.5" y="195" font-size="11.1" stroke="#000" stroke-width="0.3">OD29K</text>
</svg></body></html>
